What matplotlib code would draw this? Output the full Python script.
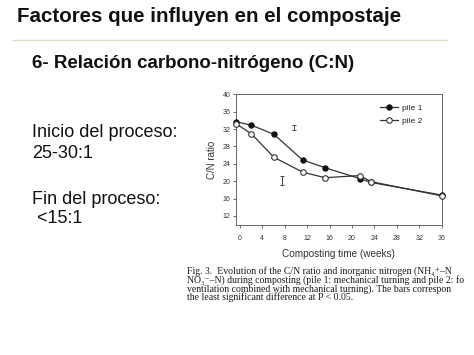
import matplotlib
matplotlib.use("Agg")
import matplotlib.pyplot as plt

# ---- data ----
weeks_p1 = [-0.6, 2.1, 6.1, 11.2, 15.2, 21.4, 23.4, 36.0]
cn_p1 = [33.7, 32.9, 30.8, 24.9, 23.1, 20.6, 19.7, 16.8]
weeks_p2 = [-0.6, 2.1, 6.1, 11.2, 15.2, 21.4, 23.4, 36.0]
cn_p2 = [33.2, 30.9, 25.5, 22.1, 20.8, 21.3, 19.9, 16.6]
lsd_x = [9.6, 7.6]
lsd_y = [32.3, 20.1]
lsd_half = [0.6, 1.0]
xticks = [0, 4, 8, 12, 16, 20, 24, 28, 32, 36]
yticks = [12, 16, 20, 24, 28, 32, 36, 40]
series_labels = ["pile 1", "pile 2"]

title = "Factores que influyen en el compostaje"
subtitle = "6- Relación carbono-nitrógeno (C:N)"
left_lines = ["Inicio del proceso:", "25-30:1", "Fin del proceso:", " <15:1"]
caption = [
    "Fig. 3.  Evolution of the C/N ratio and inorganic nitrogen (NH₄⁺–N",
    "NO₃⁻–N) during composting (pile 1: mechanical turning and pile 2: fo",
    "ventilation combined with mechanical turning). The bars correspon",
    "the least significant difference at P < 0.05.",
]

plt.rcParams['font.family'] = ['Liberation Sans', 'DejaVu Sans']

W, H = 474, 355
fig = plt.figure(figsize=(W / 100, H / 100), dpi=100)
fig.patch.set_facecolor('white')

def fx(px):
    return px / W

def fy(py):
    return 1 - py / H

# slide texts
fig.text(fx(17), fy(17), title, fontsize=14.8, fontweight='bold', va='center', ha='left', color='#111111')
fig.add_artist(plt.Line2D([fx(12), fx(447)], [fy(39.5), fy(39.5)], color='#dfe2bf', lw=1.0))
fig.text(fx(32), fy(63), subtitle, fontsize=13.5, fontweight='bold', va='center', ha='left', color='#111111')

ys = [133, 153, 199, 219]
for t, y in zip(left_lines, ys):
    fig.text(fx(32), fy(y), t, fontsize=13.0, va='center', ha='left', color='#111111', zorder=1)

ax = fig.add_axes([0.498, 0.365, 0.434, 0.369])
ax.patch.set_visible(False)
ax.set_zorder(2)

lc = '#333333'
ax.plot(weeks_p1, cn_p1, '-o', color=lc, lw=0.9, ms=3.6, mfc='#111111', mec='#111111', label=series_labels[0], clip_on=False, zorder=4)
ax.plot(weeks_p2, cn_p2, '-o', color=lc, lw=0.9, ms=4.0, mfc='white', mec='#333333', mew=0.8, label=series_labels[1], clip_on=False, zorder=5)

for x, y, h in zip(lsd_x, lsd_y, lsd_half):
    ax.errorbar([x], [y], yerr=[h], fmt='none', ecolor='#444444', elinewidth=0.7, capsize=1.5, capthick=0.7)

ax.set_xlim(-0.65, 36)
ax.set_ylim(9.8, 40)
ax.set_xticks(xticks)
ax.set_yticks(yticks)
ax.tick_params(axis='both', labelsize=5, colors='#555555', labelcolor='#333333', length=2, width=0.6, pad=2)
ax.tick_params(axis='x', pad=5)
for s in ax.spines.values():
    s.set_color('#666666')
    s.set_linewidth(0.7)

ax.set_ylabel("C/N ratio", fontsize=7, color='#333333', labelpad=4)
ax.set_xlabel("Composting time (weeks)", fontsize=7.2, color='#333333', labelpad=5)

leg = ax.legend(loc='upper right', bbox_to_anchor=(0.955, 1.0), frameon=False, fontsize=6,
                handlelength=2.2, handletextpad=0.5, labelspacing=0.55, borderaxespad=0.8)
for t in leg.get_texts():
    t.set_color('#222222')

# caption
cy = [271.5, 280.2, 288.9, 297.6]
for t, y in zip(caption, cy):
    fig.text(fx(187), fy(y), t, fontsize=7.0, family=['Liberation Serif', 'DejaVu Serif'],
             va='center', ha='left', color='#1a1a1a', zorder=3)

fig.savefig('out.png', dpi=100, facecolor='white')
